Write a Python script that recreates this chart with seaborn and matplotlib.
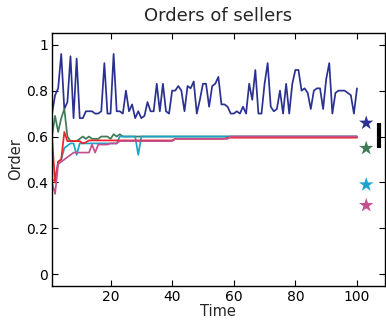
import matplotlib
matplotlib.use("Agg")
import matplotlib.pyplot as plt
import seaborn as sns
import pandas as pd

# Time steps of the simulation
time = list(range(1, 101))

# Order of each seller over time
order_blue = [
    0.70, 0.78, 0.81, 0.96, 0.72, 0.75, 0.95, 0.68, 0.94, 0.68,
    0.68, 0.71, 0.71, 0.71, 0.70, 0.70, 0.71, 0.92, 0.70, 0.70,
    0.96, 0.71, 0.71, 0.70, 0.80, 0.71, 0.74, 0.68, 0.71, 0.68,
    0.69, 0.75, 0.71, 0.71, 0.83, 0.71, 0.83, 0.71, 0.70, 0.80,
    0.80, 0.82, 0.80, 0.71, 0.82, 0.81, 0.84, 0.70, 0.76, 0.83,
    0.83, 0.73, 0.82, 0.83, 0.86, 0.74, 0.74, 0.73, 0.70, 0.70,
    0.71, 0.70, 0.73, 0.70, 0.83, 0.76, 0.89, 0.70, 0.70, 0.83,
    0.92, 0.73, 0.71, 0.72, 0.80, 0.70, 0.83, 0.70, 0.83, 0.89,
    0.89, 0.80, 0.81, 0.79, 0.72, 0.80, 0.81, 0.81, 0.72, 0.85,
    0.92, 0.70, 0.79, 0.80, 0.80, 0.80, 0.79, 0.78, 0.70, 0.81,
]
order_green = [
    0.60, 0.69, 0.62, 0.68, 0.72, 0.60, 0.58, 0.58, 0.58, 0.59,
    0.60, 0.59, 0.60, 0.59, 0.59, 0.59, 0.60, 0.60, 0.60, 0.59,
    0.61, 0.60, 0.61, 0.60, 0.60, 0.60, 0.60, 0.60, 0.60, 0.60,
    0.60, 0.60, 0.60, 0.60, 0.60, 0.60, 0.60, 0.60, 0.60, 0.60,
    0.60, 0.60, 0.60, 0.60, 0.60, 0.60, 0.60, 0.60, 0.60, 0.60,
    0.60, 0.60, 0.60, 0.60, 0.60, 0.60, 0.60, 0.60, 0.60, 0.60,
    0.60, 0.60, 0.60, 0.60, 0.60, 0.60, 0.60, 0.60, 0.60, 0.60,
    0.60, 0.60, 0.60, 0.60, 0.60, 0.60, 0.60, 0.60, 0.60, 0.60,
    0.60, 0.60, 0.60, 0.60, 0.60, 0.60, 0.60, 0.60, 0.60, 0.60,
    0.60, 0.60, 0.60, 0.60, 0.60, 0.60, 0.60, 0.60, 0.60, 0.60,
]
order_cyan = [
    0.41, 0.41, 0.49, 0.50, 0.55, 0.56, 0.57, 0.57, 0.52, 0.57,
    0.57, 0.57, 0.57, 0.57, 0.57, 0.57, 0.57, 0.57, 0.57, 0.57,
    0.57, 0.57, 0.60, 0.60, 0.60, 0.60, 0.60, 0.60, 0.52, 0.60,
    0.60, 0.60, 0.60, 0.60, 0.60, 0.60, 0.60, 0.60, 0.60, 0.60,
    0.60, 0.60, 0.60, 0.60, 0.60, 0.60, 0.60, 0.60, 0.60, 0.60,
    0.60, 0.60, 0.60, 0.60, 0.60, 0.60, 0.60, 0.60, 0.60, 0.60,
    0.60, 0.60, 0.60, 0.60, 0.60, 0.60, 0.60, 0.60, 0.60, 0.60,
    0.60, 0.60, 0.60, 0.60, 0.60, 0.60, 0.60, 0.60, 0.60, 0.60,
    0.60, 0.60, 0.60, 0.60, 0.60, 0.60, 0.60, 0.60, 0.60, 0.60,
    0.60, 0.60, 0.60, 0.60, 0.60, 0.60, 0.60, 0.60, 0.60, 0.60,
]
order_red = [
    0.60, 0.40, 0.49, 0.50, 0.62, 0.58, 0.58, 0.58, 0.58, 0.58,
    0.57, 0.575, 0.583, 0.583, 0.583, 0.583, 0.583, 0.583, 0.583, 0.583,
    0.583, 0.583, 0.583, 0.583, 0.583, 0.583, 0.583, 0.583, 0.583, 0.583,
    0.583, 0.583, 0.583, 0.583, 0.583, 0.583, 0.583, 0.583, 0.583, 0.583,
    0.59, 0.59, 0.59, 0.59, 0.59, 0.59, 0.59, 0.59, 0.59, 0.59,
    0.59, 0.59, 0.59, 0.59, 0.59, 0.59, 0.59, 0.595, 0.595, 0.595,
    0.595, 0.595, 0.595, 0.595, 0.595, 0.595, 0.595, 0.595, 0.595, 0.595,
    0.595, 0.595, 0.595, 0.595, 0.595, 0.595, 0.595, 0.595, 0.595, 0.595,
    0.595, 0.595, 0.595, 0.595, 0.595, 0.595, 0.595, 0.595, 0.595, 0.595,
    0.595, 0.595, 0.595, 0.595, 0.595, 0.595, 0.595, 0.595, 0.595, 0.595,
]
order_pink = [
    0.40, 0.35, 0.48, 0.49, 0.50, 0.51, 0.52, 0.53, 0.53, 0.53,
    0.53, 0.53, 0.53, 0.565, 0.53, 0.565, 0.565, 0.565, 0.565, 0.57,
    0.57, 0.57, 0.58, 0.58, 0.58, 0.58, 0.58, 0.58, 0.58, 0.58,
    0.58, 0.58, 0.58, 0.58, 0.58, 0.58, 0.58, 0.58, 0.58, 0.58,
    0.59, 0.59, 0.59, 0.59, 0.59, 0.59, 0.59, 0.59, 0.59, 0.59,
    0.59, 0.59, 0.59, 0.59, 0.59, 0.59, 0.59, 0.59, 0.60, 0.60,
    0.60, 0.60, 0.60, 0.60, 0.60, 0.60, 0.60, 0.60, 0.60, 0.60,
    0.60, 0.60, 0.60, 0.60, 0.60, 0.60, 0.60, 0.60, 0.60, 0.60,
    0.60, 0.60, 0.60, 0.60, 0.60, 0.60, 0.60, 0.60, 0.60, 0.60,
    0.60, 0.60, 0.60, 0.60, 0.60, 0.60, 0.60, 0.60, 0.60, 0.60,
]

sellers = ["blue", "green", "cyan", "red", "pink"]
palette = {
    "blue": "#2b3191",
    "green": "#3e7b57",
    "cyan": "#1ba3cc",
    "red": "#ee2229",
    "pink": "#c4508f",
}

# Reference orders marked by stars to the right of the curves
star_sellers = ["blue", "green", "cyan", "pink"]
star_orders = [0.659, 0.549, 0.39, 0.30]
star_time = [103, 103, 103, 103]

# Vertical bar spanning the gap between the two upper stars
bar_time = [107, 107]
bar_orders = [0.549, 0.659]

series = [order_blue, order_green, order_cyan, order_red, order_pink]
df = pd.DataFrame({
    "Time": time * len(sellers),
    "Order": [v for s in series for v in s],
    "seller": [name for name in sellers for _ in time],
})
stars = pd.DataFrame({"Time": star_time, "Order": star_orders, "seller": star_sellers})

sns.set_style("ticks")
plt.rcParams["font.family"] = ["DejaVu Sans"]

fig = plt.figure(figsize=(3.86, 3.27), dpi=100)
ax = fig.add_axes([0.1347, 0.1263, 0.862, 0.772])

sns.lineplot(data=df, x="Time", y="Order", hue="seller", hue_order=sellers,
             palette=palette, linewidth=1.25, legend=False, ax=ax)
sns.scatterplot(data=stars, x="Time", y="Order", hue="seller", palette=palette,
                marker="*", s=120, linewidth=0, legend=False, ax=ax)
ax.plot(bar_time, bar_orders, color="black", linewidth=3, solid_capstyle="butt")

ax.set_xlim(1, 109)
ax.set_ylim(-0.05, 1.05)
ax.set_xticks([20, 40, 60, 80, 100])
ax.set_xticklabels(["20", "40", "60", "80", "100"])
ax.set_yticks([0, 0.2, 0.4, 0.6, 0.8, 1])
ax.set_yticklabels(["0", "0.2", "0.4", "0.6", "0.8", "1"])
ax.tick_params(direction="in", top=True, right=True, length=4, width=0.8,
               labelsize=10, colors="black", pad=3)
for sp in ax.spines.values():
    sp.set_visible(True)
    sp.set_color("black")
    sp.set_linewidth(1.0)

ax.set_title("Orders of sellers", fontsize=13, pad=9)
ax.set_xlabel("Time", fontsize=10.5, labelpad=0)
ax.set_ylabel("Order", fontsize=10.5, labelpad=2)

fig.savefig("out.png", dpi=100)
